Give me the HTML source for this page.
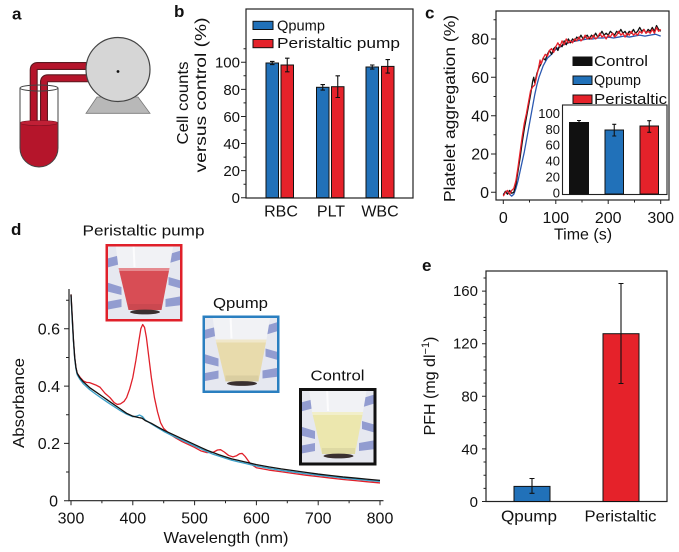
<!DOCTYPE html>
<html><head><meta charset="utf-8"><style>
html,body{margin:0;padding:0;background:#fff;}
svg{display:block;}
text{font-family:"Liberation Sans",Arial,sans-serif;fill:#111;}
</style></head><body>
<svg width="679" height="552" viewBox="0 0 679 552" xmlns="http://www.w3.org/2000/svg">
<defs>
<g id="photo">
<rect x="0" y="0" width="77" height="77" fill="#e6e8f0"/>
<g fill="#929cd0">
<polygon points="0,15 15,11 15,20 0,24"/>
<polygon points="0,38 16,43 16,51 0,47"/>
<polygon points="0,58 16,55 16,63 0,66"/>
<polygon points="64,10 77,6 77,15 64,19"/>
<polygon points="63,33 77,37 77,45 63,41"/>
<polygon points="60,55 77,52 77,61 60,63"/>
</g>
<polygon points="10,0 68,0 64,24 13,24" fill="#f1f2f5"/>
<line x1="28" y1="0" x2="29" y2="23" stroke="#ffffff" stroke-width="2" opacity="0.8"/>
<polygon points="13,24 64,24 56,66 23,66"/>
<polygon points="13,24 64,24 63.5,27 13.5,27" fill="#ffffff" opacity="0.35"/>
<polygon points="23,60 56,60 56,66 23,66" fill="#000" opacity="0.06"/>
<ellipse cx="39.5" cy="68" rx="15" ry="2.4" fill="#3a3030"/>
</g>
</defs>

<!-- Panel labels -->
<text x="12" y="19.5" font-size="17" font-weight="bold">a</text>
<text x="174" y="17" font-size="17" font-weight="bold">b</text>
<text x="425" y="18.5" font-size="17" font-weight="bold">c</text>
<text x="11" y="235" font-size="17" font-weight="bold">d</text>
<text x="422" y="271" font-size="17" font-weight="bold">e</text>

<!-- ===== Panel a ===== -->
<g>
<path d="M33.7,124 V70 Q33.7,66 37.7,66 H92" fill="none" stroke="#5a1a20" stroke-width="8"/>
<path d="M33.7,124 V70 Q33.7,66 37.7,66 H92" fill="none" stroke="#b5152b" stroke-width="5.8"/>
<path d="M44,124 V82 Q44,78.3 48,78.3 H92" fill="none" stroke="#5a1a20" stroke-width="8"/>
<path d="M44,124 V82 Q44,78.3 48,78.3 H92" fill="none" stroke="#b5152b" stroke-width="5.8"/>
<path d="M20,123 V148 A19,19 0 0 0 58,148 V123 Z" fill="#b5152b"/>
<ellipse cx="39" cy="123" rx="19" ry="2.5" fill="#c02036" stroke="#7a1020" stroke-width="0.6"/>
<path d="M20,88 V148 A19,19 0 0 0 58,148 V88" fill="none" stroke="#444" stroke-width="1"/>
<ellipse cx="39" cy="88" rx="19" ry="3" fill="none" stroke="#444" stroke-width="1"/>
<polygon points="97,97 138,97 150,113.3 86,113.3" fill="#b8b8b8" stroke="#777" stroke-width="0.8"/>
<circle cx="118" cy="69.5" r="32" fill="#d6d6d6" stroke="#444" stroke-width="1.2"/>
<circle cx="118" cy="71.5" r="1.4" fill="#111"/>
</g>

<!-- ===== Panel b ===== -->
<g>
<rect x="246" y="9" width="167" height="189" fill="none" stroke="#222" stroke-width="1.2"/>
<path d="M241,197.7H246M241,170.6H246M241,143.5H246M241,116.5H246M241,89.4H246M241,62.3H246M243.5,184.2H246M243.5,157.1H246M243.5,130H246M243.5,102.9H246M243.5,75.8H246M243.5,48.8H246" stroke="#222" stroke-width="1"/>
<g font-size="15" text-anchor="end">
<text x="240" y="67.7">100</text>
<text x="240" y="94.8">80</text>
<text x="240" y="121.9">60</text>
<text x="240" y="148.9">40</text>
<text x="240" y="176">20</text>
<text x="240" y="203.1">0</text>
</g>
<g stroke="#111" stroke-width="1">
<rect x="266" y="63" width="12.5" height="134.7" fill="#2171b9"/>
<rect x="281" y="65" width="12.5" height="132.7" fill="#e5222a"/>
<rect x="316.5" y="87.3" width="12.5" height="110.4" fill="#2171b9"/>
<rect x="331.5" y="86.7" width="12.5" height="111" fill="#e5222a"/>
<rect x="366" y="67" width="12.5" height="130.7" fill="#2171b9"/>
<rect x="381.5" y="66.4" width="12.5" height="131.3" fill="#e5222a"/>
</g>
<path d="M272.25,64.6V61.4M270,61.4h4.5M270,64.6h4.5
M287.25,71.8V58.2M285,58.2h4.5M285,71.8h4.5
M322.75,90.1V84.6M320.5,84.6h4.5M320.5,90.1h4.5
M337.75,97.5V75.8M335.5,75.8h4.5M335.5,97.5h4.5
M372.25,69.1V65M370,65h4.5M370,69.1h4.5
M387.75,73.1V59.6M385.5,59.6h4.5M385.5,73.1h4.5" stroke="#111" stroke-width="1.1" fill="none"/>
<rect x="253" y="21.3" width="20" height="8.2" fill="#2171b9" stroke="#111" stroke-width="1"/>
<rect x="253" y="39.5" width="20" height="8.2" fill="#e5222a" stroke="#111" stroke-width="1"/>
<text x="277" y="30.7" font-size="15" textLength="48" lengthAdjust="spacingAndGlyphs">Qpump</text>
<text x="277" y="48" font-size="15" textLength="123" lengthAdjust="spacingAndGlyphs">Peristaltic pump</text>
<g font-size="16" text-anchor="middle">
<text x="281" y="216.7">RBC</text>
<text x="331" y="216.7">PLT</text>
<text x="380" y="216.7">WBC</text>
</g>
<text transform="translate(188,103) rotate(-90)" font-size="16" text-anchor="middle" textLength="83" lengthAdjust="spacingAndGlyphs">Cell counts</text>
<text transform="translate(206,95) rotate(-90)" font-size="16" text-anchor="middle" textLength="155" lengthAdjust="spacingAndGlyphs">versus control (%)</text>
</g>

<!-- ===== Panel c ===== -->
<g>
<rect x="496" y="11" width="173" height="189" fill="none" stroke="#222" stroke-width="1.2"/>
<path d="M491,192.3H496M491,154H496M491,115.7H496M491,77.3H496M491,39H496M493.5,173.1H496M493.5,134.8H496M493.5,96.5H496M493.5,58.2H496M493.5,19.8H496
M503.3,200v4M555.8,200v4M608.2,200v4M660.7,200v4M529.5,200v2.5M582,200v2.5M634.5,200v2.5" stroke="#222" stroke-width="1"/>
<g font-size="16" text-anchor="end">
<text x="489" y="44.7">80</text>
<text x="489" y="83">60</text>
<text x="489" y="121.4">40</text>
<text x="489" y="159.7">20</text>
<text x="489" y="198">0</text>
</g>
<g font-size="16" text-anchor="middle">
<text x="503.3" y="223">0</text>
<text x="555.8" y="223">100</text>
<text x="608.2" y="223">200</text>
<text x="660.7" y="223">300</text>
<text x="583" y="239.5">Time (s)</text>
</g>
<text transform="translate(455,108.5) rotate(-90)" font-size="16" text-anchor="middle" textLength="187" lengthAdjust="spacingAndGlyphs">Platelet aggregation (%)</text>
<g transform="translate(503.3,192.3) scale(0.5247,-1.9165)" fill="none" stroke-linejoin="round">
<polyline vector-effect="non-scaling-stroke" stroke="#2a58b0" stroke-width="1.3" points="0,-1 4,0 8,0.5 12,-1 16,-2 20,-1 24,2 28,6 32,11 36,16 40,21 44,27 48,33 52,39 56,45 60,51 64,56 68,60 72,63 76,66 80,68 84,70 88,71 92,72 96,73.5 100,74.5 105,75.5 110,76 115,77 120,77.5 125,78 130,78.5 140,79 150,79.5 160,80 170,80 180,80.5 190,80.5 200,81 210,80.5 220,81 230,81.5 240,81 250,81.5 260,82 270,81.5 280,82 290,82.5 300,81.5"/>
<polyline vector-effect="non-scaling-stroke" stroke="#111" stroke-width="1.3" points="0,-1.5 4,0.5 8,-1 12,1 16,-0.5 20,0 24,4 28,11 32,18 36,26 40,33 44,39 48,45 52,51 56,58 58,60 60,57 64,62 68,65 72,67 76,70 80,69 84,72 88,74 92,72 96,75 100,76 104,74 108,77 112,76 116,79 120,77 124,80 128,78 132,80 136,79 140,81 144,80 148,82 152,80 156,81 160,82 164,80 168,82 172,81 176,83 180,81 184,82 188,84 192,82 196,83 200,82 204,84 208,83 212,82 216,84 220,83 224,85 228,83 232,84 236,82 240,84 244,83 248,85 252,83 256,84 260,86 264,84 268,85 272,83 276,85 280,84 284,86 288,84 292,87 296,85 300,84"/>
<polyline vector-effect="non-scaling-stroke" stroke="#e8202a" stroke-width="1.3" points="0,-2 4,0 8,1 12,-1 16,1 20,2 24,6 28,13 32,21 36,29 40,36 44,41 48,47 52,53 56,55 60,56 64,61 68,66 70,69 72,67 76,70 80,72 84,71 88,74 92,75 96,73 100,76 104,78 108,76 112,79 116,77 120,80 124,78 128,79 132,78 136,80 140,79 144,81 148,79 152,80 156,82 160,80 164,81 168,80 172,82 176,80 180,81 184,83 188,81 192,82 196,80 200,82 204,81 208,83 212,81 216,82 220,84 224,82 228,83 232,81 236,83 240,82 244,84 248,82 252,83 256,82 260,84 264,83 268,85 272,83 276,84 280,83 284,85 288,83 292,86 296,84 300,85"/>
</g>
<rect x="573" y="57" width="19" height="8.5" fill="#111" stroke="#111" stroke-width="1"/>
<rect x="573" y="76" width="19" height="8.5" fill="#2171b9" stroke="#111" stroke-width="1"/>
<rect x="573" y="95" width="19" height="8.5" fill="#e5222a" stroke="#111" stroke-width="1"/>
<text x="594" y="66" font-size="15" textLength="54" lengthAdjust="spacingAndGlyphs">Control</text>
<text x="594" y="85" font-size="15" textLength="47" lengthAdjust="spacingAndGlyphs">Qpump</text>
<text x="594" y="104" font-size="15" textLength="73" lengthAdjust="spacingAndGlyphs">Peristaltic</text>
<rect x="562.5" y="105" width="104.5" height="89.5" fill="#fff" stroke="#222" stroke-width="1.1"/>
<g font-size="13" text-anchor="end">
<text x="560" y="117.9">100</text>
<text x="560" y="133.8">80</text>
<text x="560" y="149.7">60</text>
<text x="560" y="165.6">40</text>
<text x="560" y="181.4">20</text>
<text x="560" y="197.3">0</text>
</g>
<g stroke="#111" stroke-width="1">
<rect x="569.5" y="122.5" width="19" height="71.5" fill="#111"/>
<rect x="605" y="130" width="18.5" height="64" fill="#2171b9"/>
<rect x="640" y="126" width="18.5" height="68" fill="#e5222a"/>
</g>
<path d="M579,120.5V124.5M577,120.5h4M614.25,124.3V136M612.25,124.3h4M612.25,136h4M649.25,120.7V132.3M647.25,120.7h4M647.25,132.3h4" stroke="#111" stroke-width="1.1"/>
</g>

<!-- ===== Panel d ===== -->
<g>
<path d="M69,289V500.7H383.5" fill="none" stroke="#222" stroke-width="1.2"/>
<path d="M64,500.7H69M64,443.4H69M64,386.1H69M64,328.8H69M66,472H69M66,414.8H69M66,357.5H69M66,300.2H69
M71,500.7v4.5M132.8,500.7v4.5M194.6,500.7v4.5M256.4,500.7v4.5M318.2,500.7v4.5M380,500.7v4.5
M101.9,500.7v2.5M163.7,500.7v2.5M225.5,500.7v2.5M287.3,500.7v2.5M349.1,500.7v2.5" stroke="#222" stroke-width="1"/>
<g font-size="16" text-anchor="end">
<text x="60" y="334.4">0.6</text>
<text x="60" y="391.8">0.4</text>
<text x="60" y="449.1">0.2</text>
<text x="58" y="506.4">0</text>
</g>
<g font-size="16" text-anchor="middle">
<text x="71" y="523.5">300</text>
<text x="132.8" y="523.5">400</text>
<text x="194.6" y="523.5">500</text>
<text x="256.4" y="523.5">600</text>
<text x="318.2" y="523.5">700</text>
<text x="380" y="523.5">800</text>
<text x="226" y="543" textLength="125" lengthAdjust="spacingAndGlyphs">Wavelength (nm)</text>
</g>
<text transform="translate(24,403) rotate(-90)" font-size="16" text-anchor="middle" textLength="90" lengthAdjust="spacingAndGlyphs">Absorbance</text>
<g transform="translate(-114.4,500.7) scale(0.618,-286.5)" fill="none" stroke-linejoin="round">
<polyline vector-effect="non-scaling-stroke" stroke="#e0202a" stroke-width="1.3" points="300,0.72 302,0.64 304,0.56 306,0.5 308,0.465 310,0.445 315,0.43 320,0.418 325,0.413 330,0.412 340,0.404 347,0.396 355,0.375 363,0.36 370,0.342 375,0.336 380,0.338 386,0.347 390,0.36 395,0.39 400,0.43 405,0.49 410,0.56 413,0.6 416,0.615 419,0.605 422,0.57 426,0.5 430,0.43 435,0.36 440,0.31 445,0.272 450,0.252 460,0.232 470,0.218 480,0.206 490,0.196 500,0.186 510,0.174 520,0.168 530,0.169 537,0.177 542,0.178 548,0.17 555,0.158 562,0.153 568,0.157 573,0.164 577,0.165 582,0.154 590,0.13 600,0.115 620,0.107 640,0.101 660,0.095 680,0.089 700,0.084 720,0.079 740,0.074 760,0.07 780,0.066 800,0.062"/>
<polyline vector-effect="non-scaling-stroke" stroke="#3a9fc8" stroke-width="1.3" points="300,0.715 302,0.63 304,0.555 306,0.495 308,0.46 310,0.44 314,0.425 320,0.408 330,0.388 340,0.372 350,0.357 360,0.342 370,0.328 380,0.314 390,0.302 400,0.293 406,0.295 411,0.299 416,0.293 420,0.282 430,0.268 440,0.255 450,0.242 460,0.231 470,0.221 480,0.211 490,0.201 500,0.191 510,0.181 520,0.171 530,0.162 540,0.155 550,0.148 560,0.141 570,0.136 580,0.131 590,0.126 600,0.121 620,0.113 640,0.106 660,0.1 680,0.094 700,0.089 720,0.084 740,0.079 760,0.075 780,0.071 800,0.067"/>
<polyline vector-effect="non-scaling-stroke" stroke="#111" stroke-width="1.3" points="300,0.72 302,0.64 304,0.56 306,0.5 308,0.465 310,0.445 314,0.43 320,0.415 330,0.395 340,0.38 350,0.365 360,0.35 370,0.335 380,0.32 390,0.305 400,0.295 410,0.29 415,0.288 420,0.28 430,0.27 440,0.258 450,0.246 460,0.236 470,0.226 480,0.216 490,0.206 500,0.196 510,0.186 520,0.176 530,0.168 540,0.16 550,0.153 560,0.146 570,0.141 580,0.136 590,0.131 600,0.126 620,0.118 640,0.111 660,0.105 680,0.099 700,0.093 720,0.088 740,0.083 760,0.079 780,0.075 800,0.071"/>
</g>
<text x="143.5" y="235.5" font-size="15" text-anchor="middle" textLength="122" lengthAdjust="spacingAndGlyphs">Peristaltic pump</text>
<use href="#photo" transform="translate(105.5,244)" fill="#d84d55"/>
<rect x="106.75" y="245.25" width="74.5" height="75" fill="none" stroke="#e0202a" stroke-width="2.5"/>
<text x="240.5" y="308" font-size="15" text-anchor="middle" textLength="55" lengthAdjust="spacingAndGlyphs">Qpump</text>
<use href="#photo" transform="translate(202.5,315.5)" fill="#e8dbac"/>
<rect x="203.75" y="316.75" width="74.5" height="75" fill="none" stroke="#2a7fc0" stroke-width="2.5"/>
<text x="337.5" y="380.5" font-size="15" text-anchor="middle" textLength="54" lengthAdjust="spacingAndGlyphs">Control</text>
<use href="#photo" transform="translate(299,388)" fill="#ece7ae"/>
<rect x="300.5" y="389.5" width="74.5" height="74.5" fill="none" stroke="#111" stroke-width="3"/>
</g>

<!-- ===== Panel e ===== -->
<g>
<rect x="486" y="271" width="181" height="230.5" fill="none" stroke="#222" stroke-width="1.2"/>
<path d="M482,501.5H486M482,448.9H486M482,396.3H486M482,343.7H486M482,291.1H486
M483.5,488.35H486M483.5,475.2H486M483.5,462.05H486M483.5,435.75H486M483.5,422.6H486M483.5,409.45H486M483.5,383.15H486M483.5,370H486M483.5,356.85H486M483.5,330.55H486M483.5,317.4H486M483.5,304.25H486M483.5,277.95H486" stroke="#222" stroke-width="1"/>
<g font-size="15" text-anchor="end">
<text x="478" y="296">160</text>
<text x="478" y="348.7">120</text>
<text x="478" y="401.4">80</text>
<text x="478" y="454.3">40</text>
<text x="478" y="506.9">0</text>
</g>
<g stroke="#111" stroke-width="1">
<rect x="514" y="486.4" width="36" height="15.1" fill="#2171b9"/>
<rect x="603" y="333.7" width="36" height="167.8" fill="#e5222a"/>
</g>
<path d="M532,478.5V493.3M529.5,478.5h5M529.5,493.3h5M621,283.5V383.5M618.5,283.5h5M618.5,383.5h5" stroke="#111" stroke-width="1.1"/>
<g font-size="16" text-anchor="middle">
<text x="529" y="521.7" textLength="56" lengthAdjust="spacingAndGlyphs">Qpump</text>
<text x="620.5" y="521.7" textLength="72" lengthAdjust="spacingAndGlyphs">Peristaltic</text>
</g>
<text transform="translate(435,386) rotate(-90)" font-size="16" text-anchor="middle">PFH (mg dl<tspan dy="-6" font-size="11">−1</tspan><tspan dy="6">)</tspan></text>
</g>
</svg>
</body></html>
